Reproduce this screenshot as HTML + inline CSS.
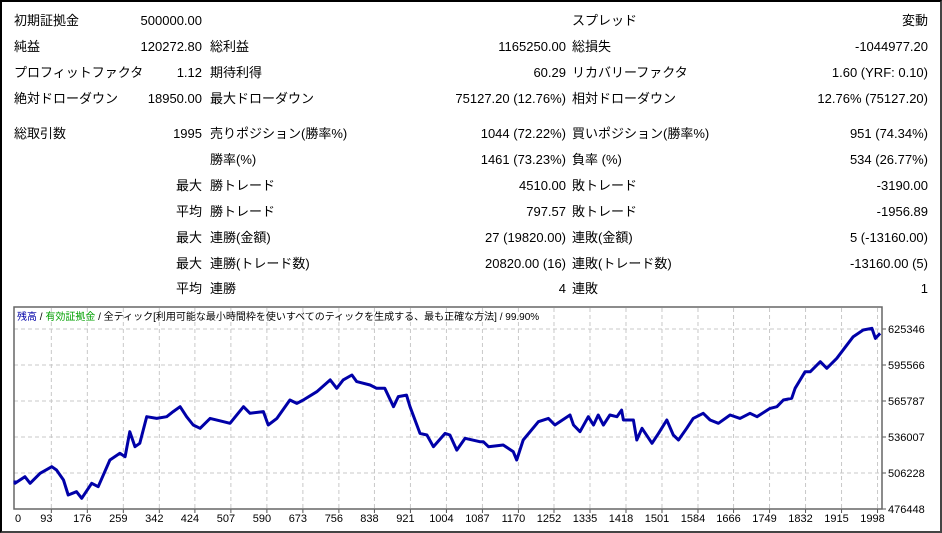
<!DOCTYPE html>
<html><head><meta charset="utf-8">
<style>
body{margin:0;width:942px;height:533px;background:#fff;overflow:hidden;font-family:"Liberation Sans","Noto Sans CJK JP",sans-serif;font-size:13px;color:#000}
#frame{position:absolute;left:0;top:0;width:938px;height:529px;border:2px solid #000;border-right:2px solid #444;border-bottom:2px solid #444}
.t{position:absolute;height:18px;line-height:18px;white-space:nowrap}
.r{text-align:right}
</style></head>
<body>
<div id="frame"></div>
<div id="stats"></div>
<svg id="chart" width="942" height="533" style="position:absolute;left:0;top:0"></svg>
<script>
// ---- stats table ----
const rowsY=[21,47,73,99,134,160,186,212,238,264,289];
const cells=[
[0,14,"初期証拠金","l"],[0,202,"500000.00","r"],[0,572,"スプレッド","l"],[0,928,"変動","r"],
[1,14,"純益","l"],[1,202,"120272.80","r"],[1,210,"総利益","l"],[1,566,"1165250.00","r"],[1,572,"総損失","l"],[1,928,"-1044977.20","r"],
[2,14,"プロフィットファクタ","l"],[2,202,"1.12","r"],[2,210,"期待利得","l"],[2,566,"60.29","r"],[2,572,"リカバリーファクタ","l"],[2,928,"1.60 (YRF: 0.10)","r"],
[3,14,"絶対ドローダウン","l"],[3,202,"18950.00","r"],[3,210,"最大ドローダウン","l"],[3,566,"75127.20 (12.76%)","r"],[3,572,"相対ドローダウン","l"],[3,928,"12.76% (75127.20)","r"],
[4,14,"総取引数","l"],[4,202,"1995","r"],[4,210,"売りポジション(勝率%)","l"],[4,566,"1044 (72.22%)","r"],[4,572,"買いポジション(勝率%)","l"],[4,928,"951 (74.34%)","r"],
[5,210,"勝率(%)","l"],[5,566,"1461 (73.23%)","r"],[5,572,"負率 (%)","l"],[5,928,"534 (26.77%)","r"],
[6,202,"最大","r"],[6,210,"勝トレード","l"],[6,566,"4510.00","r"],[6,572,"敗トレード","l"],[6,928,"-3190.00","r"],
[7,202,"平均","r"],[7,210,"勝トレード","l"],[7,566,"797.57","r"],[7,572,"敗トレード","l"],[7,928,"-1956.89","r"],
[8,202,"最大","r"],[8,210,"連勝(金額)","l"],[8,566,"27 (19820.00)","r"],[8,572,"連敗(金額)","l"],[8,928,"5 (-13160.00)","r"],
[9,202,"最大","r"],[9,210,"連勝(トレード数)","l"],[9,566,"20820.00 (16)","r"],[9,572,"連敗(トレード数)","l"],[9,928,"-13160.00 (5)","r"],
[10,202,"平均","r"],[10,210,"連勝","l"],[10,566,"4","r"],[10,572,"連敗","l"],[10,928,"1","r"]];
const st=document.getElementById('stats');
cells.forEach(c=>{const d=document.createElement('div');d.className='t'+(c[3]=='r'?' r':'');


d.style.top=(rowsY[c[0]]-9)+'px';
if(c[3]=='r'){d.style.left=(c[1]-200)+'px';d.style.width='200px';}else{d.style.left=c[1]+'px';}
d.textContent=c[2];st.appendChild(d);});

// ---- chart data ----
const trades=[9,32,44,67,94,105,121,132,151,163,186,201,228,251,263,274,286,297,313,336,359,374,390,405,420,436,459,490,505,536,551,582,593,613,643,659,674,705,736,751,766,786,797,828,843,862,882,893,912,920,943,959,974,1001,1012,1028,1047,1081,1089,1101,1135,1158,1166,1181,1216,1239,1254,1289,1297,1312,1331,1343,1354,1366,1381,1397,1408,1412,1435,1443,1455,1478,1493,1512,1527,1539,1558,1573,1596,1612,1631,1658,1681,1704,1720,1750,1766,1781,1800,1808,1831,1843,1866,1881,1904,1942,1965,1985,1993,2004];
const equity=[497700,503200,497700,506000,511400,508700,500400,488000,490800,485300,497700,494900,517000,522500,519700,540400,528000,530800,552800,551400,552800,557000,561100,552800,545900,543200,551400,548700,547300,561100,555600,557000,545900,551400,566600,563800,566600,573500,583200,576300,583200,587300,581800,579000,576300,576300,561100,569400,570700,561100,539000,537700,528000,539000,537700,525200,534900,532100,532100,528000,529400,523900,517000,533500,548700,551400,545900,554200,545900,540400,552800,545900,554200,545900,554200,552800,558300,550100,550100,533500,543200,530800,539000,550100,537700,533500,543200,551400,555600,550100,547300,554200,551400,555600,552800,559700,561100,566600,568000,576300,590000,590000,598300,592800,601100,619000,624500,625900,617600,621800];
const startTrade=0, startEquity=500000;
const xTicks=[0,93,176,259,342,424,507,590,673,756,838,921,1004,1087,1170,1252,1335,1418,1501,1584,1666,1749,1832,1915,1998];
const yTicks=[476448,506228,536007,565787,595566,625346];

const L=14,T=307,R=882,B=509;
const X=i=>Math.max(15,11+i*0.4337);
const Y=v=>509-(v-476448)*(180/148898);
const svg=document.getElementById('chart');const NS='http://www.w3.org/2000/svg';
function mk(tag,attrs,parent){const e=document.createElementNS(NS,tag);for(const k in attrs)e.setAttribute(k,attrs[k]);(parent||svg).appendChild(e);return e;}
// grid
xTicks.forEach((t,k)=>{if(k==0)return;const x=X(t);
const g=mk('line',{x1:x,x2:x,y1:T+1,y2:B,stroke:'#c8c8c8','stroke-dasharray':'4,3'});


mk('line',{x1:x,x2:x,y1:B,y2:B+4,stroke:'#555'});
const tx=mk('text',{x:x-5,y:522,'font-size':'11','text-anchor':'middle','font-family':'Liberation Sans, sans-serif',fill:'#000'});


tx.textContent=t;});
const t0=mk('text',{x:18,y:522,'font-size':'11','text-anchor':'middle','font-family':'Liberation Sans, sans-serif'});


t0.textContent=xTicks[0];
yTicks.forEach(v=>{const y=Y(v);
if(v!=yTicks[0]){const g=mk('line',{x1:L,x2:R,y1:y,y2:y,stroke:'#c8c8c8','stroke-dasharray':'4,3'});

}
mk('line',{x1:R,x2:R+4,y1:y,y2:y,stroke:'#555'});
const tx=mk('text',{x:888,y:y+4,'font-size':'11','font-family':'Liberation Sans, sans-serif'});


tx.textContent=v;});
const fr=mk('rect',{x:L,y:T,width:R-L,height:B-T,fill:'none',stroke:'#666','stroke-width':1.5});


// line
let d='M'+X(startTrade)+','+Y(startEquity);
trades.forEach((t,i)=>{d+=' L'+X(t).toFixed(1)+','+Y(equity[i]).toFixed(1);});
const p=mk('path',{d:d,fill:'none',stroke:'#0000a8','stroke-width':3,'stroke-linejoin':'round'});


// legend
const lg=mk('text',{x:17,y:320,'font-size':'10','font-family':'Liberation Sans, Noto Sans CJK JP, sans-serif'});


const parts=[["残高","#0000a8"],[" / ","#000"],["有効証拠金","#00a000"],[" / 全ティック[利用可能な最小時間枠を使いすべてのティックを生成する、最も正確な方法] / 99.90%","#000"]];
parts.forEach(q=>{const s=mk('tspan',{fill:q[1]},lg);s.textContent=q[0];});
</script>
</body></html>
